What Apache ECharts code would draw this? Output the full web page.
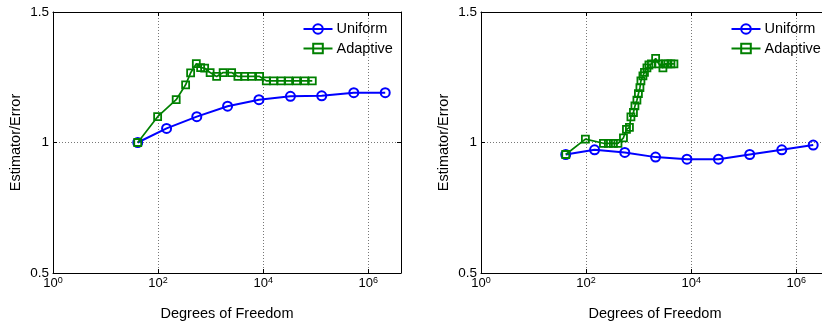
<!DOCTYPE html>
<html><head><meta charset="utf-8">
<script src="https://cdn.jsdelivr.net/npm/echarts@6/dist/echarts.min.js"></script>
<style>html,body{margin:0;padding:0;overflow:hidden;background:#fff}#c{width:845px;height:326px}</style>
</head><body><div id="c"></div><script>
// ---- data ----
const seriesNames = ['Uniform', 'Adaptive'];
const yTicks = [0.5, 1, 1.5];
const xExponents = [0, 2, 4, 6];
const xMin = 1, xMax = 4194304;
const uniformDofs = [41, 145, 545, 2100, 8300, 33000, 130000, 530000, 2100000];
const leftUniform = [1.000, 1.054, 1.099, 1.139, 1.164, 1.177, 1.179, 1.191, 1.191];
const leftAdaptiveDofs = [41, 98, 221, 334, 416, 534, 645, 769, 978, 1300, 1729, 2508, 3304, 4432, 6026, 8551, 11460, 15780, 21920, 30470, 43250, 61400, 85960];
const leftAdaptive = [1.000, 1.099, 1.164, 1.221, 1.267, 1.302, 1.287, 1.285, 1.268, 1.253, 1.268, 1.268, 1.253, 1.253, 1.253, 1.253, 1.236, 1.236, 1.236, 1.236, 1.236, 1.236, 1.236];
const rightUniform = [0.954, 0.972, 0.962, 0.944, 0.936, 0.936, 0.954, 0.972, 0.990];
const rightAdaptiveDofs = [41, 97, 214, 266, 331, 404, 514, 586, 668, 713, 796, 850, 927, 990, 1058, 1105, 1207, 1290, 1438, 1570, 1752, 2105, 2432, 2898, 3163, 3608, 4115, 4693];
const rightAdaptive = [0.954, 1.013, 0.997, 0.997, 0.997, 0.997, 1.018, 1.050, 1.058, 1.098, 1.115, 1.140, 1.162, 1.187, 1.210, 1.236, 1.255, 1.269, 1.286, 1.297, 1.301, 1.322, 1.301, 1.286, 1.301, 1.301, 1.301, 1.301];

const FONT = '"Liberation Sans", Arial, Helvetica, sans-serif';
const BLUE = '#0000ff', GREEN = '#008000';
const grids = [{left: 53, top: 12, width: 348, height: 263}, {left: 481, top: 12, width: 348, height: 263}];

const pair = (xs, ys) => xs.map((x, i) => [x, ys[i]]);
const xLabel = v => {
  const l = Math.log10(v), e = Math.round(l);
  if (Math.abs(l - e) > 1e-6 || xExponents.indexOf(e) < 0) return '';
  return '{b|10}{s|' + e + '}';
};
const xAxes = [], yAxes = [], series = [], legends = [];
grids.forEach((g, gi) => {
  const common = {type: 'log', logBase: 10, min: xMin, max: xMax, interval: 2, gridIndex: gi,
    axisLine: {show: true, lineStyle: {color: '#000', width: 1}},
    axisTick: {show: true, inside: true, length: 4, lineStyle: {color: '#000'}},
    minorTick: {show: false}};
  xAxes.push(Object.assign({}, common, {position: 'bottom',
    name: 'Degrees of Freedom', nameLocation: 'middle', nameGap: 33,
    nameTextStyle: {fontFamily: FONT, fontSize: 14.5, color: '#000'},
    axisLabel: {show: true, margin: 3, showMaxLabel: false, formatter: xLabel,
      rich: {b: {fontFamily: FONT, fontSize: 13, color: '#000', verticalAlign: 'bottom'},
             s: {fontFamily: FONT, fontSize: 9, color: '#000', verticalAlign: 'bottom', padding: [0, 0, 5, 0]}}},
    splitLine: {show: true, lineStyle: {color: '#777', type: [1, 2], width: 1}}}));
  xAxes.push(Object.assign({}, common, {position: 'top', axisLabel: {show: false}, splitLine: {show: false}}));
  const ycommon = {type: 'value', min: yTicks[0], max: yTicks[yTicks.length - 1], interval: 0.5, gridIndex: gi,
    axisLine: {show: true, lineStyle: {color: '#000', width: 1}},
    axisTick: {show: true, inside: true, length: 4, lineStyle: {color: '#000'}}};
  yAxes.push(Object.assign({}, ycommon, {position: 'left',
    name: 'Estimator/Error', nameLocation: 'middle', nameGap: 30,
    nameTextStyle: {fontFamily: FONT, fontSize: 14.5, color: '#000'},
    axisLabel: {show: true, margin: 4, fontFamily: FONT, fontSize: 13.5, color: '#000'},
    splitLine: {show: true, lineStyle: {color: '#777', type: [1, 2], width: 1}}}));
  yAxes.push(Object.assign({}, ycommon, {position: 'right', axisLabel: {show: false}, splitLine: {show: false}}));
  legends.push({orient: 'vertical', left: g.left + 249.5, top: 21.5, padding: 0, itemGap: 4.5,
    itemWidth: 29, itemHeight: 12, data: seriesNames,
    textStyle: {fontFamily: FONT, fontSize: 14.5, color: '#000', lineHeight: 15, padding: [0, 0, 0, -1]}});
});
const mk = (name, data, gi, color, symbol, size, lw, bw) => ({
  name, type: 'line', data, xAxisIndex: gi * 2, yAxisIndex: gi * 2,
  symbol, symbolSize: size, showSymbol: true,
  lineStyle: {color, width: lw},
  itemStyle: {color: 'rgba(0,0,0,0)', borderColor: color, borderWidth: bw},
  emphasis: {disabled: true}, silent: true
});
series.push(mk('Uniform', pair(uniformDofs, leftUniform), 0, BLUE, 'circle', 9, 2, 2));
series.push(mk('Adaptive', pair(leftAdaptiveDofs, leftAdaptive), 0, GREEN, 'rect', 7, 1.7, 1.8));
series.push(mk('Uniform', pair(uniformDofs, rightUniform), 1, BLUE, 'circle', 9, 2, 2));
series.push(mk('Adaptive', pair(rightAdaptiveDofs, rightAdaptive), 1, GREEN, 'rect', 7, 1.7, 1.8));

const chart = echarts.init(document.getElementById('c'), null, {renderer: 'canvas'});
chart.setOption({animation: false, backgroundColor: '#fff', grid: grids, xAxis: xAxes, yAxis: yAxes, legend: legends, series});
</script></body></html>
